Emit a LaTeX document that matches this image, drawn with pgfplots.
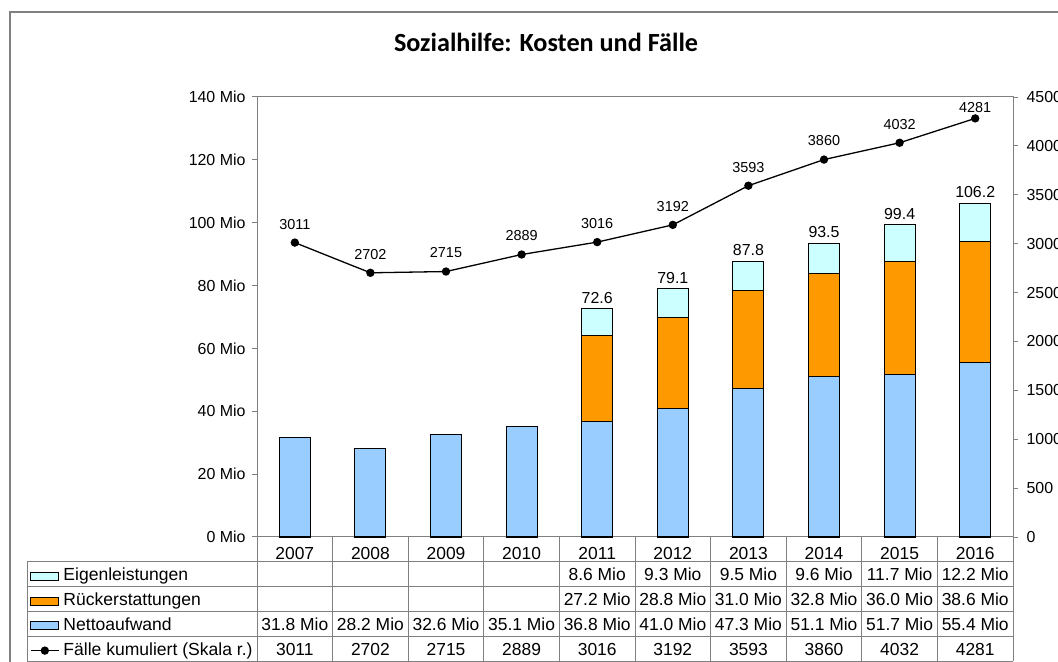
\documentclass[border=0pt]{standalone}
\usepackage{pgfplots}
\pgfplotsset{compat=1.18}
\usepackage{fontspec}
\setmainfont{Liberation Sans}
\newfontfamily\titlefont{Carlito}
\definecolor{netto}{HTML}{99CCFF}
\definecolor{rueck}{HTML}{FF9900}
\definecolor{eigen}{HTML}{CCFFFF}
\definecolor{gridgray}{HTML}{808080}
\pgfplotsset{
  rectkey/.style={legend image code/.code={\draw[##1] (0bp,-4bp) rectangle (28bp,4bp);}},
  linekey/.style={legend image code/.code={\draw[mark repeat=2,mark phase=2,##1] plot coordinates {(0bp,0bp) (14bp,0bp) (28bp,0bp)};}},
  commonax/.style={at={(257bp,125bp)}, anchor=south west, scale only axis,
    width=756bp, height=440bp, xmin=-0.5, xmax=9.5, clip=false,
    /pgf/number format/assume math mode=true,
    /pgf/number format/1000 sep={}},
}
\begin{document}
\begin{tikzpicture}
% outer frame
\draw[gridgray, line width=1.3bp] (10bp,-5bp) -- (10bp,650bp) -- (1070bp,650bp);
% title
\node[anchor=base, inner sep=0pt] at (546bp,610bp) {\titlefont\bfseries\fontsize{26.3}{30}\selectfont Sozialhilfe: Kosten und Fälle};

% bars
\begin{axis}[commonax,
  ymin=0, ymax=140,
  ybar stacked, bar width=31bp,
  xtick={0,1,2,3,4,5,6,7,8,9},
  xticklabels={2007,2008,2009,2010,2011,2012,2013,2014,2015,2016},
  x tick style={draw=none},
  ytick={0,20,...,140},
  yticklabel={\pgfmathprintnumber{\tick} Mio},
  ytick pos=left, tick align=outside, major tick length=5bp,
  axis line style={draw=gridgray, line width=1bp},
  y tick style={draw=gridgray, line width=1bp},
  y tick label style={font=\fontsize{16}{19}\selectfont, xshift=-3bp},
  x tick label style={font=\fontsize{17.5}{20}\selectfont, anchor=base, inner sep=0pt, yshift=-18bp},
]
\addplot[fill=netto, draw=black, line width=1.1bp] coordinates {(0,31.8) (1,28.2) (2,32.6) (3,35.1) (4,36.8) (5,41.0) (6,47.3) (7,51.1) (8,51.7) (9,55.4)};
\addplot[fill=rueck, draw=black, line width=1.1bp] coordinates {(0,0) (1,0) (2,0) (3,0) (4,27.2) (5,28.8) (6,31.0) (7,32.8) (8,36.0) (9,38.6)};
\addplot[fill=eigen, draw=black, line width=1.1bp] coordinates {(0,0) (1,0) (2,0) (3,0) (4,8.6) (5,9.3) (6,9.5) (7,9.6) (8,11.7) (9,12.2)};
\end{axis}

% totals above bars
\begin{axis}[commonax, ymin=0, ymax=140, hide axis]
\addplot[draw=none, nodes near coords={\pgfmathprintnumber[fixed,fixed zerofill,precision=1]{\pgfplotspointmeta}}, point meta=y,
  every node near coord/.append style={font=\fontsize{16}{19}\selectfont, anchor=south, inner sep=0pt, yshift=5bp, text=black}]
  coordinates {(4,72.6) (5,79.1) (6,87.8) (7,93.5) (8,99.4) (9,106.2)};
\end{axis}

% line on right axis
\begin{axis}[commonax, ymin=0, ymax=4500,
  axis x line=none, axis y line*=right,
  ytick={0,500,...,4500},
  tick align=outside, major tick length=5bp,
  axis line style={draw=gridgray, line width=1bp},
  y tick style={draw=gridgray, line width=1bp},
  y tick label style={font=\fontsize{16}{19}\selectfont, anchor=west, xshift=5bp},
  legend style={at={(-0.3003,-0.0705)}, anchor=north west, draw=none, fill=none,
    inner sep=0pt, row sep=8.8bp, column sep=4bp,
    font=\fontsize{17.6}{20}\selectfont,
    nodes={inner sep=0pt, text height=12.5bp, text depth=3.5bp, anchor=west}},
  legend cell align=left,
]
\addlegendimage{rectkey, fill=eigen, draw=black, line width=1bp}
\addlegendentry{Eigenleistungen}
\addlegendimage{rectkey, fill=rueck, draw=black, line width=1bp}
\addlegendentry{Rückerstattungen}
\addlegendimage{rectkey, fill=netto, draw=black, line width=1bp}
\addlegendentry{Nettoaufwand}
\addplot[black, line width=1.3bp, mark=*, mark size=3.5bp, mark options={solid},
  linekey,
  nodes near coords, point meta=y,
  every node near coord/.append style={font=\fontsize{14.5}{17}\selectfont, anchor=south, inner sep=0pt, yshift=12.8bp},
  coordinate style/.condition={\coordindex==9}{yshift=-8.1bp}]
  coordinates {(0,3011) (1,2702) (2,2715) (3,2889) (4,3016) (5,3192) (6,3593) (7,3860) (8,4032) (9,4281)};
\addlegendentry{Fälle kumuliert (Skala r.)}
\end{axis}

% data table grid
\begin{scope}[gridgray, line width=1bp]
\foreach \yy in {100,75,50.3,25.5,1} {\draw (27bp,\yy bp) -- (1013bp,\yy bp);}
\draw (27bp,100bp) -- (27bp,1bp);
\foreach \k in {0,...,10} {\draw ({257bp+75.6bp*\k},125bp) -- ({257bp+75.6bp*\k},1bp);}
\end{scope}
% data table values
\begin{scope}[every node/.style={anchor=base, inner sep=0pt, font=\fontsize{17.5}{20}\selectfont}]
\foreach \i/\v in {4/8.6,5/9.3,6/9.5,7/9.6,8/11.7,9/12.2}
  {\node at ({294.8bp+75.6bp*\i},81.5bp) {\v{} Mio};}
\foreach \i/\v in {4/27.2,5/28.8,6/31.0,7/32.8,8/36.0,9/38.6}
  {\node at ({294.8bp+75.6bp*\i},56.7bp) {\v{} Mio};}
\foreach \i/\v in {0/31.8,1/28.2,2/32.6,3/35.1,4/36.8,5/41.0,6/47.3,7/51.1,8/51.7,9/55.4}
  {\node at ({294.8bp+75.6bp*\i},31.8bp) {\v{} Mio};}
\foreach \i/\v in {0/3011,1/2702,2/2715,3/2889,4/3016,5/3192,6/3593,7/3860,8/4032,9/4281}
  {\node at ({294.8bp+75.6bp*\i},7bp) {\v};}
\end{scope}

\pgfresetboundingbox
\path[use as bounding box] (0bp,0bp) rectangle (1058bp,662bp);
\end{tikzpicture}
\end{document}
